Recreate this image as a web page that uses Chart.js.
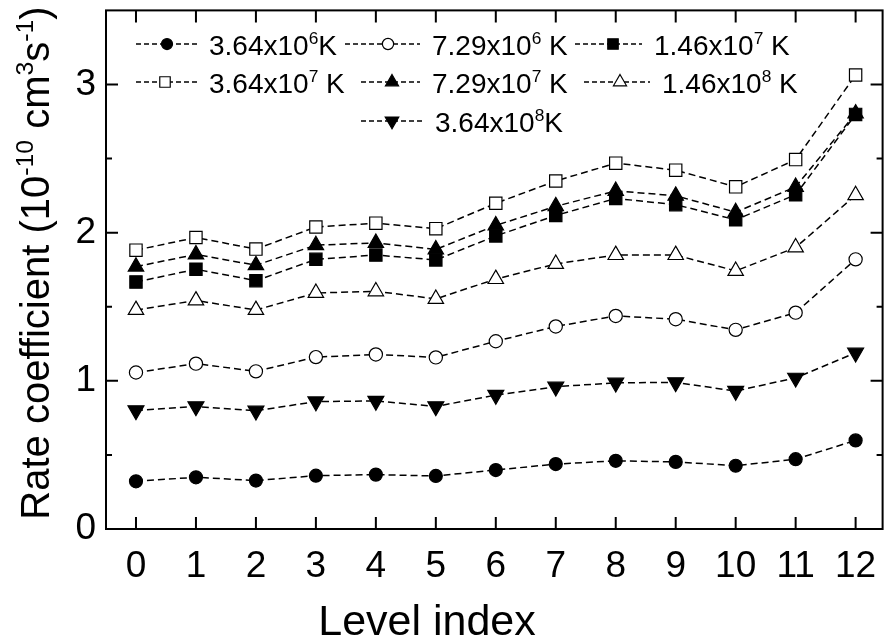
<!DOCTYPE html>
<html><head><meta charset="utf-8">
<script src="https://cdn.jsdelivr.net/npm/chart.js@4.4.1/dist/chart.umd.min.js"></script>
<style>html,body{margin:0;padding:0;background:#fff;}</style>
</head><body>
<canvas id="c" width="893" height="643" style="display:block;width:893px;height:643px"></canvas>
<script>
// ---- data ----
const levels = [0,1,2,3,4,5,6,7,8,9,10,11,12];
const t364e6 = [0.322,0.349,0.327,0.360,0.367,0.358,0.398,0.438,0.460,0.453,0.427,0.471,0.598];
const t729e6 = [1.056,1.116,1.064,1.160,1.178,1.158,1.267,1.367,1.438,1.416,1.344,1.460,1.820];
const t146e7 = [1.667,1.753,1.676,1.820,1.849,1.816,1.978,2.116,2.231,2.189,2.087,2.256,2.798];
const t364e7 = [1.882,1.967,1.889,2.038,2.064,2.027,2.198,2.349,2.469,2.422,2.309,2.493,3.064];
const t729e7 = [1.771,1.853,1.780,1.916,1.931,1.887,2.049,2.178,2.282,2.249,2.138,2.309,2.804];
const t146e8 = [1.478,1.542,1.478,1.593,1.604,1.553,1.687,1.789,1.849,1.849,1.742,1.900,2.253];
const t364e8 = [0.800,0.827,0.798,0.860,0.864,0.827,0.904,0.960,0.987,0.989,0.931,1.020,1.189];
const yTicks = [0,1,2,3];
const yMinorTicks = [0.5,1.5,2.5];
// legend label parts: [mantissa, exponent, suffix]
const seriesLabels = [
  ['3.64x10','6','K'],
  ['7.29x10','6',' K'],
  ['1.46x10','7',' K'],
  ['3.64x10','7',' K'],
  ['7.29x10','7',' K'],
  ['1.46x10','8',' K'],
  ['3.64x10','8','K']
];
const yTitleParts = [['Rate coefficient (10',0],['-10',1],[' cm',0],['3',1],['s',0],['-1',1],[')',0]];
const xTitle = 'Level index';

const FONT = "'Liberation Sans', Arial, sans-serif";

function mk(arr){ return levels.map((x,i)=>({x:x, y:arr[i]})); }
function ds(i, arr, style, filled, radius, rotation){
  return {
    label: seriesLabels[i].join(''),
    data: mk(arr),
    borderColor:'#000', borderWidth:1.5, borderDash:[7,4],
    pointStyle: style, pointRadius: radius, pointHoverRadius: radius,
    pointRotation: rotation||0,
    pointBackgroundColor: filled ? '#000' : '#fff',
    pointBorderColor:'#000', pointBorderWidth: 1.2,
    fill:false, tension:0
  };
}
const datasets = [
  ds(0, t364e6, 'circle', true, 6.5),
  ds(1, t729e6, 'circle', false, 6.6),
  ds(2, t146e7, 'rect', true, 8.7),
  ds(3, t364e7, 'rect', false, 8.7),
  ds(4, t729e7, 'triangle', true, 8.9),
  ds(5, t146e8, 'triangle', false, 8.9),
  ds(6, t364e8, 'triangle', true, 9.2, 180)
];

function drawRich(ctx, parts, x, y, size, align){
  const sup = size*0.62;
  const w = parts.map(p=>{ ctx.font = (p[1]?sup:size)+'px '+FONT; return ctx.measureText(p[0]).width; });
  const total = w.reduce((a,b)=>a+b,0);
  let cx = align==='center' ? x-total/2 : x;
  ctx.textAlign='left'; ctx.textBaseline='alphabetic';
  parts.forEach((p,i)=>{
    ctx.font = (p[1]?sup:size)+'px '+FONT;
    ctx.fillText(p[0], cx, p[1] ? y-size*0.40 : y);
    cx += w[i];
  });
}

const framePlugin = {
  id:'frame',
  beforeDatasetsDraw(chart){
    const {ctx, chartArea:a, scales:{x, y}} = chart;
    ctx.save();
    ctx.strokeStyle='#000'; ctx.lineWidth=2;
    ctx.strokeRect(a.left, a.top, a.right-a.left, a.bottom-a.top);
    ctx.beginPath();
    levels.forEach(v=>{
      const px = x.getPixelForValue(v);
      ctx.moveTo(px, a.bottom); ctx.lineTo(px, a.bottom-12);
      ctx.moveTo(px, a.top); ctx.lineTo(px, a.top+12);
    });
    yTicks.forEach(v=>{
      const py = y.getPixelForValue(v);
      ctx.moveTo(a.left, py); ctx.lineTo(a.left+12, py);
      ctx.moveTo(a.right, py); ctx.lineTo(a.right-12, py);
    });
    yMinorTicks.forEach(v=>{
      const py = y.getPixelForValue(v);
      ctx.moveTo(a.left, py); ctx.lineTo(a.left+6, py);
      ctx.moveTo(a.right, py); ctx.lineTo(a.right-6, py);
    });
    ctx.stroke();
    ctx.restore();
  },
  afterDraw(chart){
    const ctx = chart.ctx;
    ctx.save();
    ctx.fillStyle='#000';
    ctx.font = '43px '+FONT; ctx.textAlign='center'; ctx.textBaseline='alphabetic';
    ctx.fillText(xTitle, 427, 635);
    ctx.translate(49, 263); ctx.rotate(-Math.PI/2);
    drawRich(ctx, yTitleParts, 0, 0, 40, 'center');
    ctx.restore();

    const pos = [
      [136,167,209,55],[345,388,432,55],[575,613,654,55],
      [136,165,209,93],[361,392,432,93],[584,620,662,93],
      [361,392,435,132]
    ];
    ctx.save();
    chart.data.datasets.forEach((d,i)=>{
      const [l0, mx, tx, base] = pos[i];
      const my = base-11;
      ctx.strokeStyle='#000'; ctx.lineWidth=1.5; ctx.setLineDash([5,3]);
      ctx.beginPath(); ctx.moveTo(l0, my); ctx.lineTo(tx-12, my); ctx.stroke();
      ctx.setLineDash([]);
      ctx.fillStyle = d.pointBackgroundColor; ctx.strokeStyle='#000'; ctx.lineWidth=1.2;
      Chart.helpers.drawPoint(ctx, {pointStyle:d.pointStyle, radius:d.pointRadius*0.85, rotation:d.pointRotation, borderWidth:1.2}, mx, my);
      ctx.fillStyle='#000';
      const p = seriesLabels[i];
      drawRich(ctx, [[p[0],0],[p[1],1],[p[2],0]], tx, base, 28, 'left');
    });
    ctx.restore();
  }
};

new Chart(document.getElementById('c'), {
  type:'line',
  data:{ datasets },
  options:{
    responsive:false, animation:false, devicePixelRatio:1,
    layout:{ padding:{ top:5, right:3, left:0, bottom:0 } },
    plugins:{ legend:{display:false}, tooltip:{enabled:false} },
    scales:{
      x:{
        type:'linear', min:-0.5, max:12.45,
        afterBuildTicks(s){ s.ticks = levels.map(v=>({value:v})); },
        afterFit(s){ s.height = 114; s.paddingLeft = 0; s.paddingRight = 0; },
        grid:{ display:false, drawTicks:false },
        border:{ display:false },
        ticks:{ color:'#000', padding:16, maxRotation:0, autoSkip:false, font:{ family:FONT, size:37 } }
      },
      y:{
        type:'linear', min:0, max:3.5,
        afterBuildTicks(s){ s.ticks = yTicks.map(v=>({value:v})); },
        afterFit(s){ s.width = 106; s.paddingTop = 0; s.paddingBottom = 0; },
        grid:{ display:false, drawTicks:false },
        border:{ display:false },
        ticks:{ color:'#000', padding:10, font:{ family:FONT, size:37 } }
      }
    }
  },
  plugins:[framePlugin]
});
</script>
</body></html>
